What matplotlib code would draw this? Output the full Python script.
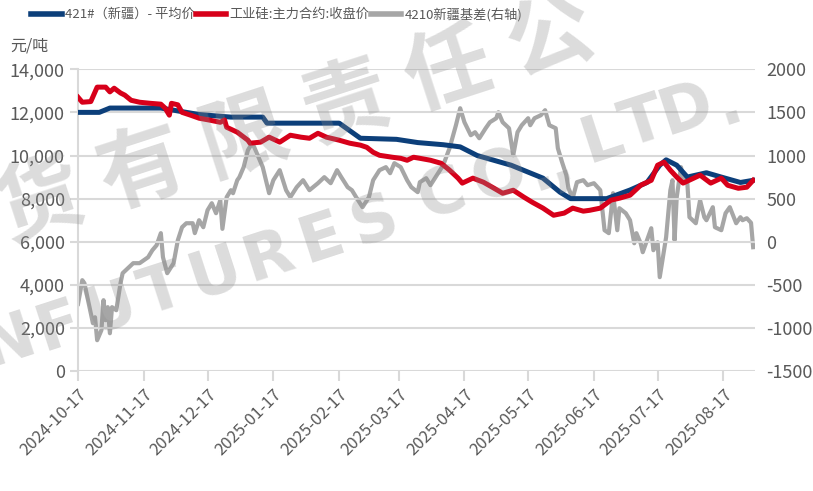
import datetime as dt
import matplotlib
matplotlib.use('Agg')
import matplotlib.pyplot as plt
import matplotlib.dates as mdates
from matplotlib.ticker import FuncFormatter, FixedLocator

plt.rcParams['font.family'] = ['Noto Sans CJK SC', 'DejaVu Sans']
plt.rcParams['axes.unicode_minus'] = False

start = dt.date(2024, 10, 17)

# day offsets from 2024-10-17
price_421_day = [0, 10, 15, 39, 48, 57, 72, 87, 89, 123, 133, 150, 160, 172, 180, 188,
                 204, 219, 227, 232, 249, 260, 268, 274, 277, 282, 287, 296, 303, 312, 318]
price_421 = [12000, 12000, 12200, 12200, 12050, 11900, 11780, 11780, 11500, 11500, 10800,
             10750, 10600, 10500, 10400, 10000, 9550, 8950, 8300, 8000, 8000, 8400, 8750,
             9550, 9800, 9550, 9000, 9200, 9000, 8750, 8850]

futures_day = [0, 2, 6, 9, 13, 15, 17, 20, 22, 25, 29, 34, 39, 41, 43, 44, 47, 49, 53, 57,
               62, 67, 69, 70, 75, 80, 81, 86, 90, 95, 100, 105, 109, 113, 117, 123, 128,
               133, 136, 139, 142, 148, 152, 155, 158, 161, 166, 171, 175, 179, 181, 186,
               191, 196, 200, 205, 210, 214, 219, 224, 229, 233, 238, 241, 246, 251, 255,
               260, 265, 270, 273, 276, 279, 282, 285, 290, 293, 298, 303, 306, 311, 315, 318]
futures_close = [12700, 12470, 12500, 13170, 13170, 12950, 13120, 12900, 12800, 12560,
                 12470, 12420, 12380, 12200, 11870, 12420, 12350, 12000, 11870, 11730,
                 11640, 11540, 11650, 11310, 11080, 10710, 10570, 10620, 10850, 10620,
                 10940, 10850, 10800, 11030, 10850, 10710, 10570, 10480, 10380, 10150,
                 10010, 9920, 9870, 9780, 9920, 9870, 9780, 9640, 9320, 8950, 8720, 8950,
                 8760, 8480, 8250, 8390, 8070, 7830, 7560, 7230, 7330, 7560, 7420, 7460,
                 7560, 7930, 8020, 8160, 8620, 8850, 9550, 9690, 9320, 9000, 8720, 8950,
                 9090, 8720, 8950, 8620, 8480, 8530, 8850]

basis_day = [0, 2, 3, 5, 7, 8, 9, 11, 12, 13, 14, 15, 16, 18, 20, 21, 24, 26, 29, 31, 33,
             35, 37, 39, 40, 42, 45, 47, 49, 51, 54, 55, 57, 59, 61, 63, 65, 67, 68, 70,
             72, 73, 75, 76, 78, 80, 82, 83, 87, 90, 92, 95, 98, 100, 103, 106, 109, 113,
             116, 119, 122, 124, 127, 129, 131, 134, 137, 139, 142, 145, 147, 149, 152,
             155, 157, 160, 161, 164, 166, 169, 172, 175, 178, 180, 182, 185, 187, 189,
             192, 194, 197, 198, 200, 203, 205, 207, 209, 212, 213, 215, 218, 220, 222,
             225, 226, 228, 230, 231, 233, 235, 238, 240, 243, 246, 248, 250, 252, 254,
             255, 258, 260, 262, 263, 265, 266, 268, 270, 271, 273, 274, 276, 277, 279,
             280, 281, 282, 284, 285, 287, 288, 291, 293, 295, 296, 299, 300, 303, 305,
             307, 310, 312, 313, 315, 317, 318]
basis_4210 = [-720, -445, -480, -712, -944, -875, -1141, -1025, -677, -909, -758, -1060,
              -758, -793, -480, -364, -295, -248, -248, -213, -179, -98, -40, 100, -179,
              -364, -248, 18, 169, 215, 215, 100, 250, 169, 366, 447, 331, 482, 150, 517,
              598, 563, 714, 749, 865, 1061, 1143, 1096, 865, 563, 714, 830, 598, 517, 633,
              714, 598, 679, 749, 679, 830, 749, 633, 598, 517, 401, 517, 714, 830, 865,
              795, 911, 865, 714, 633, 575, 691, 737, 656, 772, 888, 1085, 1351, 1548,
              1386, 1235, 1270, 1200, 1316, 1386, 1432, 1502, 1386, 1316, 1003, 1270, 1351,
              1432, 1351, 1432, 1467, 1525, 1351, 1316, 1085, 922, 772, 621, 505, 691, 714,
              656, 679, 598, 134, 100, 563, 134, 389, 331, 250, -17, 100, -17, -121, 18,
              157, -98, -5, -410, -98, 53, 598, 714, 18, 517, 865, 749, 679, 285, 215, 482,
              285, 250, 401, 169, 134, 331, 401, 215, 285, 250, 273, 220, -63]

tick_labels = ['2024-10-17', '2024-11-17', '2024-12-17', '2025-01-17', '2025-02-17',
               '2025-03-17', '2025-04-17', '2025-05-17', '2025-06-17', '2025-07-17',
               '2025-08-17']

# watermark glyphs with their centres in figure pixels
wm_cn = [('货', 40, 203), ('有', 142, 170), ('限', 244, 137), ('责', 346, 104),
         ('任', 448, 71), ('公', 550, 38)]
wm_en = [('N', 8, 342), ('F', 58, 327), ('U', 110, 309), ('T', 162, 292), ('U', 215, 274),
         ('R', 268, 257), ('E', 321, 239), ('S', 374, 222), ('C', 442, 195), ('O', 500, 177),
         ('.', 540, 170), (',', 560, 165), ('L', 602, 140), ('T', 643, 124), ('D', 686, 110),
         ('.', 728, 104)]


def to_dates(days):
    return [start + dt.timedelta(days=d) for d in days]


W, H = 813, 491
fig = plt.figure(figsize=(W / 100, H / 100), dpi=100)
ax = fig.add_axes([0.096, 0.244, 0.833, 0.615])
ax2 = ax.twinx()

grid_c = '#d9d9d9'
text_c = '#595959'

ax.plot(to_dates(price_421_day), price_421, color='#0c3f7a', lw=3.6, zorder=3,
        label='421#（新疆）- 平均价', solid_joinstyle='round')
ax.plot(to_dates(futures_day), futures_close, color='#d7001a', lw=3.6, zorder=4,
        label='工业硅:主力合约:收盘价', solid_joinstyle='round')
ax2.plot(to_dates(basis_day), basis_4210, color='#a6a6a6', lw=3.0,
         label='4210新疆基差(右轴)', solid_joinstyle='round')

ax.set_zorder(ax2.get_zorder() + 1)
ax.patch.set_visible(False)

ax.set_ylim(0, 14000)
ax.set_yticks(range(0, 14001, 2000))
ax.yaxis.set_major_formatter(FuncFormatter(lambda v, p: f'{int(v):,}'))
ax2.set_ylim(-1500, 2000)
ax2.set_yticks(range(-1500, 2001, 500))
ax2.yaxis.set_major_formatter(FuncFormatter(lambda v, p: f'{int(v)}'))

ax.set_xlim(start, start + dt.timedelta(days=319))
ticks = [mdates.date2num(dt.date.fromisoformat(t)) for t in tick_labels]
ax.xaxis.set_major_locator(FixedLocator(ticks))
ax.set_xticklabels(tick_labels, rotation=45, ha='right', rotation_mode='anchor')

ax.grid(axis='y', color=grid_c, lw=1.5)
ax.set_axisbelow(True)
for a in (ax, ax2):
    for s in ('top', 'right', 'bottom'):
        a.spines[s].set_visible(False)
ax.spines['left'].set_color(grid_c)
ax.spines['left'].set_linewidth(1.5)
ax2.spines['left'].set_visible(False)

ax.tick_params(axis='y', colors=grid_c, labelcolor=text_c, labelsize=13, length=6, width=1.5)
ax.tick_params(axis='x', colors=grid_c, labelcolor=text_c, labelsize=12, length=7, width=1.5, pad=4)
ax2.tick_params(axis='y', length=0, labelcolor=text_c, labelsize=13, pad=8)

fig.text(10 / W, 1 - 50 / H, '元/吨', fontsize=11.5, color=text_c)

h1, l1 = ax.get_legend_handles_labels()
h2, l2 = ax2.get_legend_handles_labels()
leg = fig.legend(h1 + h2, l1 + l2, loc='upper left', bbox_to_anchor=(26 / W, 1 - 2 / H),
                 borderaxespad=0, ncol=3, frameon=False, handlelength=2.3,
                 handletextpad=0.25, columnspacing=0.1, prop={'size': 9.5})
for t in leg.get_texts():
    t.set_color(text_c)
for h in leg.legend_handles:
    h.set_linewidth(4)

# watermark
for ch, x, y in wm_cn:
    fig.text(x / W, 1 - y / H, ch, fontsize=62, color='#8c8c8c', alpha=0.3, rotation=18,
             ha='center', va='center', fontweight='bold', zorder=10)
for ch, x, y in wm_en:
    fig.text(x / W, 1 - y / H, ch, fontsize=46, color='#8c8c8c', alpha=0.3, rotation=18,
             ha='center', va='center', family=['DejaVu Sans'], fontweight='bold', zorder=10)

fig.savefig('out.png', dpi=100)
plt.close(fig)
